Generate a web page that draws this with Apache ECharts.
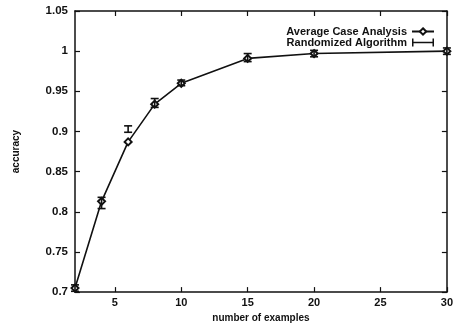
<!DOCTYPE html>
<html><head><meta charset="utf-8">
<script src="https://cdn.jsdelivr.net/npm/echarts@6/dist/echarts.min.js"></script>
<style>html,body{margin:0;padding:0;background:#fff}#c{width:456px;height:328px}</style>
</head><body><div id="c"></div>
<script>
var examples = [2, 4, 6, 8, 10, 15, 20, 30];
var averageCase = [0.705, 0.813, 0.887, 0.934, 0.960, 0.991, 0.997, 1.000];
var randomizedMean = [0.705, 0.811, 0.903, 0.936, 0.961, 0.992, 0.997, 1.000];
var randomizedLow = [0.701, 0.804, 0.899, 0.930, 0.957, 0.987, 0.993, 0.996];
var randomizedHigh = [0.709, 0.818, 0.907, 0.941, 0.964, 0.997, 1.001, 1.004];
var xTicks = [5, 10, 15, 20, 25, 30];
var yTicks = [0.7, 0.75, 0.8, 0.85, 0.9, 0.95, 1, 1.05];

var font = '"Liberation Sans", Arial, sans-serif';
var ink = '#111';

var chart = echarts.init(document.getElementById('c'), null, {renderer: 'canvas'});
var lineData = examples.map(function (x, i) { return [x, averageCase[i]]; });
var errData = examples.map(function (x, i) { return [x, randomizedMean[i], randomizedLow[i], randomizedHigh[i]]; });

function xAx(pos, show) {
  return {
    type: 'value', min: 2, max: 30, position: pos,
    axisLine: {show: true, onZero: false, lineStyle: {color: ink, width: 1.5}},
    axisTick: {show: true, inside: true, length: 5, customValues: xTicks, lineStyle: {color: ink, width: 1.2}},
    axisLabel: {show: show, customValues: xTicks, margin: 5, color: ink, fontFamily: font, fontSize: 11, fontWeight: 'bold'},
    splitLine: {show: false}
  };
}
function yAx(pos, show) {
  return {
    type: 'value', min: 0.7, max: 1.05, position: pos,
    axisLine: {show: true, onZero: false, lineStyle: {color: ink, width: 1.5}},
    axisTick: {show: true, inside: true, length: 5, customValues: yTicks, lineStyle: {color: ink, width: 1.2}},
    axisLabel: {show: show, customValues: yTicks, margin: 7, color: ink, fontFamily: font, fontSize: 11.5, fontWeight: 'bold',
      formatter: function (v) { return String(Math.round(v * 100) / 100); }},
    splitLine: {show: false}
  };
}

var xa = xAx('bottom', true);
xa.name = 'number of examples';
xa.nameLocation = 'middle';
xa.nameGap = 17;
xa.nameTextStyle = {color: ink, fontFamily: font, fontSize: 10, fontWeight: 'bold'};
var ya = yAx('left', true);
ya.name = 'accuracy';
ya.nameLocation = 'middle';
ya.nameGap = 54;
ya.nameTextStyle = {color: ink, fontFamily: font, fontSize: 10, fontWeight: 'bold'};

chart.setOption({
  animation: false,
  backgroundColor: '#fff',
  grid: {left: 75, right: 8, top: 11, bottom: 32, containLabel: false},
  xAxis: [xa, xAx('top', false)],
  yAxis: [ya, yAx('right', false)],
  legend: {
    orient: 'vertical', right: 16, top: 21, align: 'right', itemWidth: 22, itemHeight: 8, itemGap: 0,
    textStyle: {color: ink, fontFamily: font, fontSize: 11, fontWeight: 'bold'},
    data: [
      {name: 'Average Case Analysis'},
      {name: 'Randomized Algorithm', icon: 'path://M0,0h1.5v3.2h19v-3.2h1.5v8h-1.5v-3.2h-19v3.2h-1.5z', itemStyle: {color: ink}}
    ]
  },
  series: [
    {
      name: 'Average Case Analysis', type: 'line', data: lineData, xAxisIndex: 0, yAxisIndex: 0,
      symbol: 'emptyDiamond', symbolSize: 7, z: 3,
      lineStyle: {color: ink, width: 1.6},
      itemStyle: {color: ink, borderWidth: 1.6}
    },
    {
      name: 'Randomized Algorithm', type: 'custom', data: errData, xAxisIndex: 0, yAxisIndex: 0, z: 4,
      itemStyle: {color: ink},
      encode: {x: 0, y: [1, 2, 3]},
      renderItem: function (params, api) {
        var x = api.value(0);
        var lo = api.coord([x, api.value(2)]);
        var hi = api.coord([x, api.value(3)]);
        var w = 4;
        var st = {stroke: ink, lineWidth: 1.6, fill: null};
        return {type: 'group', children: [
          {type: 'line', shape: {x1: lo[0], y1: lo[1], x2: hi[0], y2: hi[1]}, style: st},
          {type: 'line', shape: {x1: lo[0] - w, y1: lo[1], x2: lo[0] + w, y2: lo[1]}, style: st},
          {type: 'line', shape: {x1: hi[0] - w, y1: hi[1], x2: hi[0] + w, y2: hi[1]}, style: st}
        ]};
      }
    }
  ]
});
</script></body></html>
